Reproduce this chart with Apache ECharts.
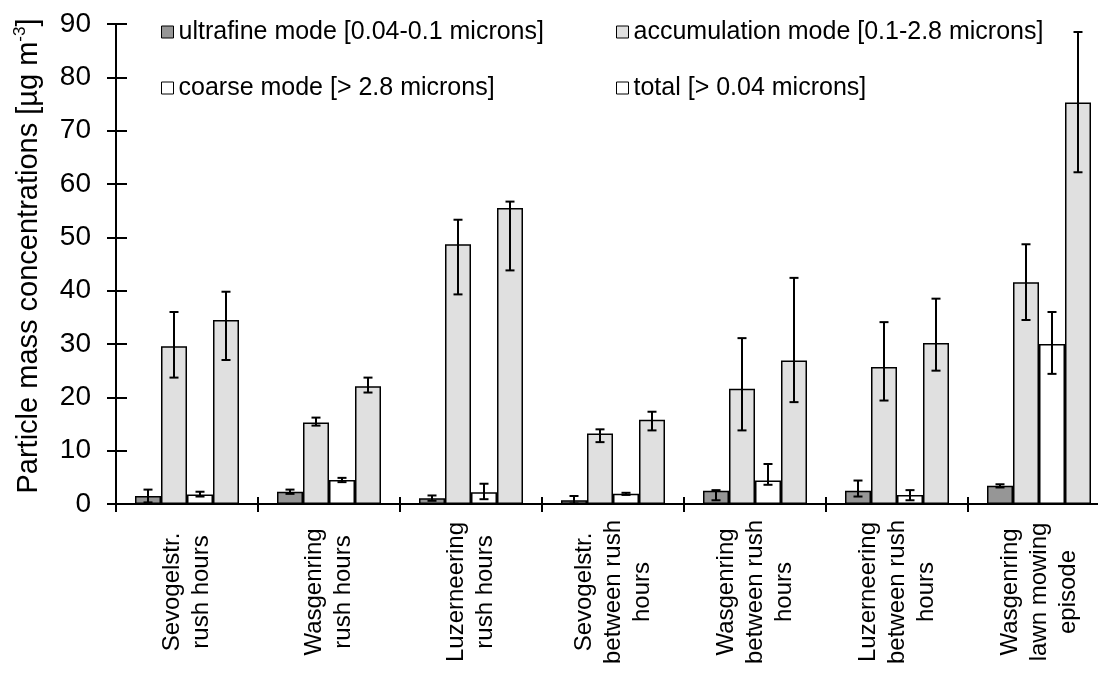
<!DOCTYPE html>
<html>
<head>
<meta charset="utf-8">
<script src="https://cdn.jsdelivr.net/npm/echarts@6/dist/echarts.min.js"></script>
<style>
html,body{margin:0;padding:0;background:#fff;}
#chart{width:1098px;height:673px;}
</style>
</head>
<body>
<div id="chart"></div>
<script>
var categories = [
  "Sevogelstr.\nrush hours",
  "Wasgenring\nrush hours",
  "Luzerneering\nrush hours",
  "Sevogelstr.\nbetween rush\nhours",
  "Wasgenring\nbetween rush\nhours",
  "Luzerneering\nbetween rush\nhours",
  "Wasgenring\nlawn mowing\nepisode"
];
var seriesNames = [
  "ultrafine mode [0.04-0.1 microns]",
  "accumulation mode [0.1-2.8 microns]",
  "coarse mode [> 2.8 microns]",
  "total [> 0.04 microns]"
];
var yTicks = [0, 10, 20, 30, 40, 50, 60, 70, 80, 90];

var ultrafine     = [1.5, 2.3, 1.1, 0.7, 2.5, 2.5, 3.4];
var ultrafineLow  = [0.3, 1.9, 0.6, 0.1, 0.7, 1.4, 3.1];
var ultrafineHigh = [2.7, 2.7, 1.6, 1.5, 2.6, 4.4, 3.7];

var accumulation     = [29.6, 15.3, 48.7, 13.2, 21.6, 25.7, 41.6];
var accumulationLow  = [23.7, 14.7, 39.3, 11.6, 13.8, 19.4, 34.5];
var accumulationHigh = [36.0, 16.2, 53.3, 14.0, 31.1, 34.1, 48.7];

var coarse     = [1.8, 4.5, 2.2, 1.9, 4.4, 1.7, 30.0];
var coarseLow  = [1.4, 4.1, 0.9, 1.7, 3.6, 0.7, 24.4];
var coarseHigh = [2.3, 4.9, 3.8, 2.1, 7.5, 2.6, 36.0];

var total     = [34.5, 22.1, 55.5, 15.8, 26.9, 30.2, 75.3];
var totalLow  = [27.0, 20.9, 43.8, 13.8, 19.1, 25.0, 62.2];
var totalHigh = [39.8, 23.7, 56.7, 17.3, 42.4, 38.5, 88.5];

var FONT = "'Liberation Sans', Arial, sans-serif";
var BAR_W = 26;
var colors = ['#969696', '#e0e0e0', '#ffffff', '#e0e0e0'];
var legendColors = ['#969696', '#e0e0e0', '#ffffff', '#ffffff'];
var values = [ultrafine, accumulation, coarse, total];
var lows = [ultrafineLow, accumulationLow, coarseLow, totalLow];
var highs = [ultrafineHigh, accumulationHigh, coarseHigh, totalHigh];

var chart = echarts.init(document.getElementById('chart'), null, {renderer: 'canvas'});

var series = [];
values.forEach(function (vals, i) {
  series.push({
    name: seriesNames[i],
    type: 'bar',
    data: vals,
    barWidth: BAR_W,
    barGap: '0%',
    itemStyle: {color: colors[i], borderColor: '#000', borderWidth: 1.5},
    z: 2
  });
});
values.forEach(function (vals, i) {
  var errData = vals.map(function (v, k) { return [k, lows[i][k], highs[i][k]]; });
  series.push({
    name: 'err' + i,
    type: 'custom',
    data: errData,
    encode: {x: 0, y: [1, 2]},
    z: 5,
    silent: true,
    renderItem: function (params, api) {
      var idx = api.value(0);
      var pLow = api.coord([idx, api.value(1)]);
      var pHigh = api.coord([idx, api.value(2)]);
      var x = pLow[0] + (i - 1.5) * BAR_W;
      var cap = 4.5;
      var st = {stroke: '#000', lineWidth: 2};
      return {
        type: 'group',
        children: [
          {type: 'line', shape: {x1: x, y1: pLow[1], x2: x, y2: pHigh[1]}, style: st},
          {type: 'line', shape: {x1: x - cap, y1: pLow[1], x2: x + cap, y2: pLow[1]}, style: st},
          {type: 'line', shape: {x1: x - cap, y1: pHigh[1], x2: x + cap, y2: pHigh[1]}, style: st}
        ]
      };
    }
  });
});

var legendText = {fontFamily: FONT, fontSize: 25, color: '#000', lineHeight: 26};
function legendItem(i) {
  return {name: seriesNames[i], itemStyle: {color: legendColors[i], borderColor: '#000', borderWidth: 1}};
}

var option = {
  backgroundColor: '#fff',
  animation: false,
  textStyle: {fontFamily: FONT},
  grid: {left: 116, top: 24, width: 994, height: 480, containLabel: false, outerBoundsMode: 'none'},
  legend: [
    {
      orient: 'vertical', left: 156, top: 14, itemGap: 30,
      icon: 'rect', itemWidth: 12, itemHeight: 12,
      textStyle: legendText, selectedMode: false,
      data: [legendItem(0), legendItem(2)]
    },
    {
      orient: 'vertical', left: 611, top: 14, itemGap: 30,
      icon: 'rect', itemWidth: 12, itemHeight: 12,
      textStyle: legendText, selectedMode: false,
      data: [legendItem(1), legendItem(3)]
    }
  ],
  xAxis: [
    {
      type: 'category', data: categories, position: 'bottom',
      axisLine: {show: true, lineStyle: {color: '#000', width: 2}},
      axisTick: {show: true, length: 8, lineStyle: {color: '#000', width: 2}},
      axisLabel: {
        interval: 0, rotate: 90, align: 'center', verticalAlign: 'middle',
        margin: 88, fontSize: 24, lineHeight: 29, color: '#000', fontFamily: FONT,
        hideOverlap: false
      },
      splitLine: {show: false}
    },
    {
      type: 'category', data: categories, position: 'bottom', offset: 0,
      axisLine: {show: false},
      axisTick: {show: true, inside: true, length: 7, lineStyle: {color: '#000', width: 2}},
      axisLabel: {show: false},
      splitLine: {show: false}
    }
  ],
  yAxis: [
    {
      type: 'value', min: yTicks[0], max: yTicks[yTicks.length - 1], interval: 10,
      position: 'left',
      axisLine: {show: true, lineStyle: {color: '#000', width: 2}},
      axisTick: {show: true, length: 9, lineStyle: {color: '#000', width: 2}},
      axisLabel: {fontSize: 28, color: '#000', margin: 25, fontFamily: FONT},
      splitLine: {show: false},
      name: '{n|Particle mass concentrations [µg m}{sup|-3}{n|]}',
      nameLocation: 'middle', nameGap: 70, nameRotate: 90,
      nameTextStyle: {
        color: '#000', fontFamily: FONT, fontSize: 29,
        padding: [0, 0, 0, 16],
        rich: {
          n: {fontSize: 29, fontFamily: FONT, color: '#000', lineHeight: 34},
          sup: {fontSize: 17, fontFamily: FONT, color: '#000', verticalAlign: 'top', lineHeight: 20}
        }
      }
    },
    {
      type: 'value', min: yTicks[0], max: yTicks[yTicks.length - 1], interval: 10,
      position: 'left', offset: 0,
      axisLine: {show: false},
      axisTick: {show: true, inside: true, length: 11, lineStyle: {color: '#000', width: 2}},
      axisLabel: {show: false},
      splitLine: {show: false}
    }
  ],
  series: series
};
chart.setOption(option);
</script>
</body>
</html>
